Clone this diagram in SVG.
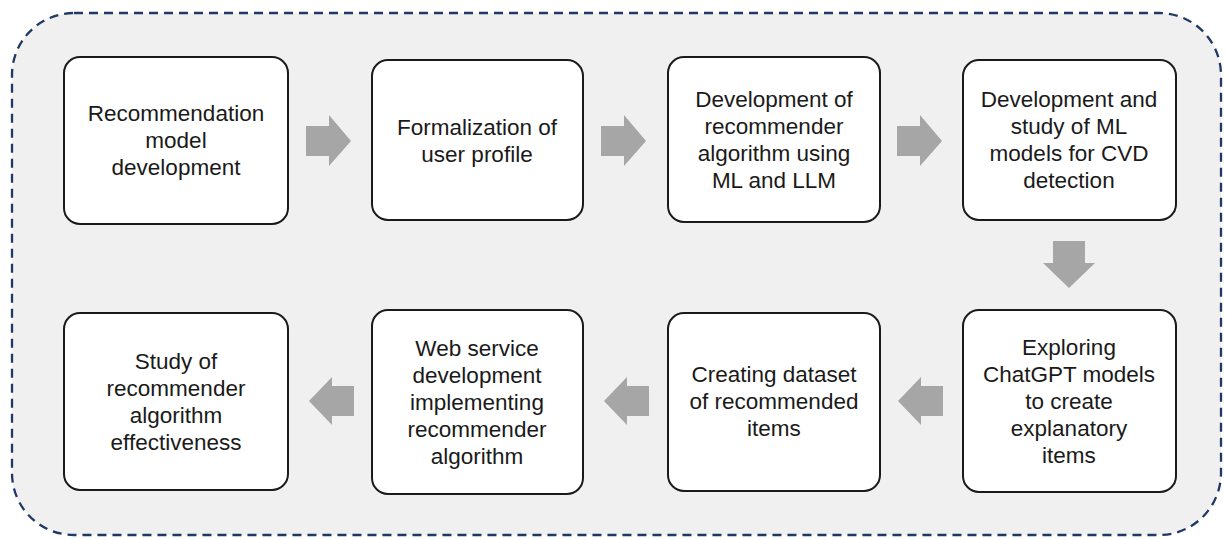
<svg xmlns="http://www.w3.org/2000/svg" width="1226" height="539" viewBox="0 0 1226 539">
<style>
.box{fill:#fff;stroke:#1a1a1a;stroke-width:2}
.t{font-family:"Liberation Sans",Arial,sans-serif;font-size:22.5px;fill:#1a1a1a;text-anchor:middle}
.arr{fill:#a6a6a6}
</style>
<rect x="12" y="13" width="1209" height="522" rx="62" fill="#f0f0f0" stroke="#1f3864" stroke-width="2.3" stroke-dasharray="9 6"/>
<g id="n1"><rect class="box" x="64" y="57" width="224" height="167" rx="16"/>
<text class="t" x="176"><tspan x="176" y="121">Recommendation</tspan><tspan x="176" y="148">model</tspan><tspan x="176" y="175">development</tspan></text></g>
<g id="n2"><rect class="box" x="372" y="60" width="211" height="160" rx="16"/>
<text class="t"><tspan x="477" y="135">Formalization of</tspan><tspan x="477" y="162">user profile</tspan></text></g>
<g id="n3"><rect class="box" x="668" y="57" width="212" height="165" rx="16"/>
<text class="t"><tspan x="774" y="107">Development of</tspan><tspan x="774" y="134">recommender</tspan><tspan x="774" y="161">algorithm using</tspan><tspan x="774" y="188">ML and LLM</tspan></text></g>
<g id="n4"><rect class="box" x="963" y="60" width="213" height="160" rx="16"/>
<text class="t"><tspan x="1069" y="107">Development and</tspan><tspan x="1069" y="134">study of ML</tspan><tspan x="1069" y="161">models for CVD</tspan><tspan x="1069" y="188">detection</tspan></text></g>
<g id="n5"><rect class="box" x="963" y="310" width="213" height="182" rx="16"/>
<text class="t"><tspan x="1069" y="355">Exploring</tspan><tspan x="1069" y="382">ChatGPT models</tspan><tspan x="1069" y="409">to create</tspan><tspan x="1069" y="436">explanatory</tspan><tspan x="1069" y="463">items</tspan></text></g>
<g id="n6"><rect class="box" x="668" y="313" width="212" height="178" rx="16"/>
<text class="t"><tspan x="774" y="382">Creating dataset</tspan><tspan x="774" y="409">of recommended</tspan><tspan x="774" y="436">items</tspan></text></g>
<g id="n7"><rect class="box" x="372" y="310" width="211" height="184" rx="16"/>
<text class="t"><tspan x="477" y="356">Web service</tspan><tspan x="477" y="383">development</tspan><tspan x="477" y="410">implementing</tspan><tspan x="477" y="437">recommender</tspan><tspan x="477" y="464">algorithm</tspan></text></g>
<g id="n8"><rect class="box" x="64" y="313" width="224" height="177" rx="16"/>
<text class="t"><tspan x="176" y="369">Study of</tspan><tspan x="176" y="396">recommender</tspan><tspan x="176" y="423">algorithm</tspan><tspan x="176" y="450">effectiveness</tspan></text></g>
<g id="connectors">
<polygon class="arr" points="306,126 329,126 329,115 351,141 329,166 329,156 306,156"/>
<polygon class="arr" points="601,126 624,126 624,115 646,141 624,166 624,156 601,156"/>
<polygon class="arr" points="897,126 920,126 920,115 942,141 920,166 920,156 897,156"/>
<polygon class="arr" points="1053,241 1085,241 1085,263 1095,263 1069,288 1043,263 1053,263"/>
<polygon class="arr" points="943,386 921,386 921,377 898,401 921,425 921,416 943,416"/>
<polygon class="arr" points="649,386 627,386 627,377 604,401 627,425 627,416 649,416"/>
<polygon class="arr" points="354,386 332,386 332,377 309,401 332,425 332,416 354,416"/>
</g>
</svg>
